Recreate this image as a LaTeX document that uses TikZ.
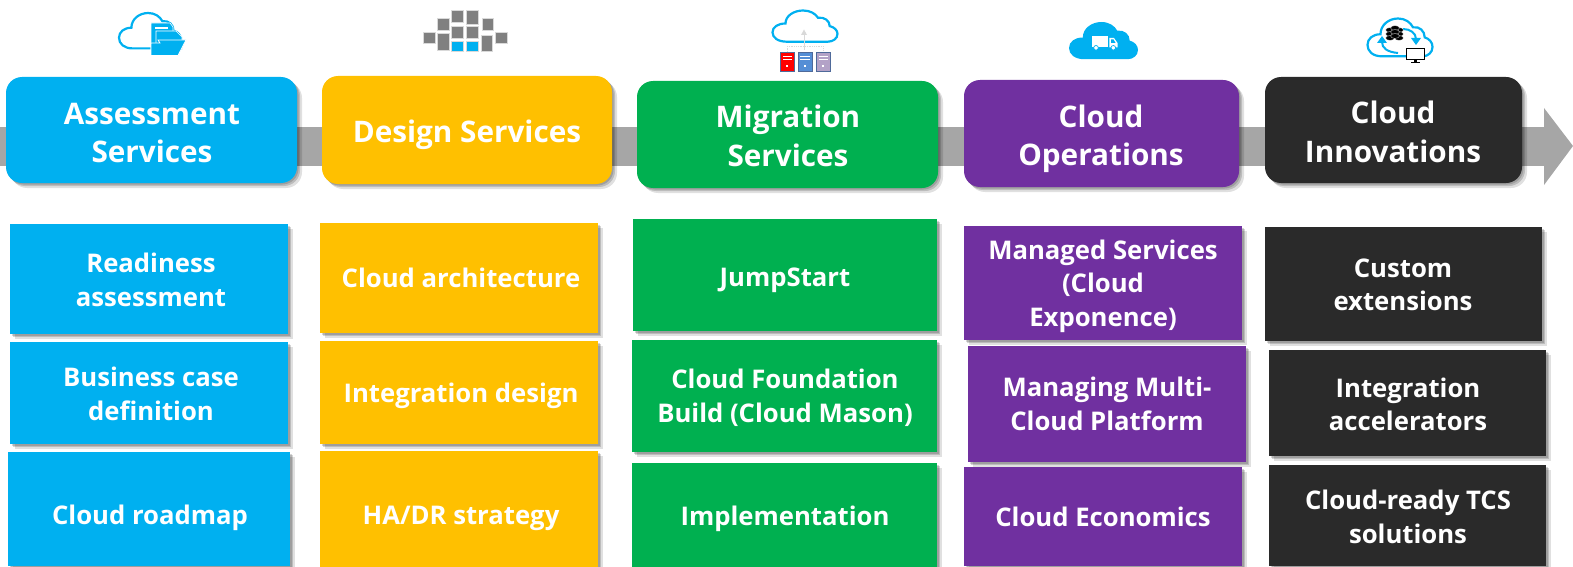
\documentclass[tikz,border=0pt]{standalone}
\usepackage{fontspec}
\setmainfont{Open Sans}
\newfontfamily\bodyf{Open Sans Bold}
\newfontfamily\headf{Open Sans Bold}
\usetikzlibrary{shadows}
\definecolor{cblue}{HTML}{00B0F0}
\definecolor{cgold}{HTML}{FFC000}
\definecolor{cgreen}{HTML}{00B050}
\definecolor{cpurple}{HTML}{7030A0}
\definecolor{cdark}{HTML}{2A2A2A}
\definecolor{cband}{HTML}{A6A6A6}
\definecolor{srvedge}{HTML}{4F6A9A}
\definecolor{srvblue}{HTML}{558ED5}
\definecolor{srvviolet}{HTML}{B3A2C7}
\tikzset{
  softshadow/.style={
    drop shadow={shadow xshift=1.5pt,shadow yshift=-1.5pt,fill=black,opacity=.16},
    drop shadow={shadow xshift=3pt,shadow yshift=-3pt,fill=black,opacity=.16},
    drop shadow={shadow xshift=5pt,shadow yshift=-5pt,fill=black,opacity=.12}},
  headbox/.style={rounded corners=16pt,inner sep=0pt,softshadow},
  bodybox/.style={inner sep=0pt,softshadow},
  headtxt/.style={text=white,align=center,inner sep=0pt,font={\headf\fontsize{29.7}{38.5}\selectfont}},
  bodytxt/.style={text=white,align=center,inner sep=0pt,font={\bodyf\fontsize{25.7}{33.5}\selectfont}},
  iconline/.style={draw=cblue,line width=2.2pt,fill=white},
  gridsq/.style={fill=#1,draw=white!85!black,line width=.5pt},
  server/.style={fill=#1,draw=srvedge,line width=1pt},
  wire/.style={draw=black!15,line width=.8pt}
}
\newcommand{\cloudshape}{(22,60) .. controls (8,60) and (0,52) .. (0,42) .. controls (0,32) and (8,25) .. (20,25) .. controls (20,10) and (33,0) .. (47,0) .. controls (58,0) and (66,6) .. (70,14) .. controls (80,12) and (88,20) .. (88,30) .. controls (95,32) and (100,38) .. (100,45) .. controls (100,54) and (93,60) .. (85,60) -- cycle}
% name, fill, style, x1,y1,x2,y2
\newcommand{\panel}[7]{\node[#3,fill=#2,minimum width={(#6-#4)*1pt},minimum height={(#7-#5)*1pt}] (#1) at ({(#4+#6)/2},{(#5+#7)/2}) {};}
\begin{document}
\begin{tikzpicture}[x=1pt,y=-1pt]
\useasboundingbox (0,0) rectangle (1573,567);
% band and arrow
\fill[cband] (0,127) rectangle (1545,165.5);
\fill[cband] (1544,108) -- (1573,146) -- (1544,185) -- cycle;
% headers
\panel{hA}{cblue}{headbox}{6}{77}{297}{183}
\panel{hB}{cgold}{headbox}{322}{76}{612}{184}
\panel{hC}{cgreen}{headbox}{637}{81}{938}{188}
\panel{hD}{cpurple}{headbox}{964}{80}{1239}{187}
\panel{hE}{cdark}{headbox}{1265}{77}{1522}{183}
\node[headtxt] (tA) at (152,133) {Assessment\\Services};
\node[headtxt] (tB) at (467,135) {Design Services};
\node[headtxt] (tC) at (788,136) {Migration\\Services};
\node[headtxt] (tD) at (1101,139) {Cloud\\Operations};
\node[headtxt] (tE) at (1393,132) {Cloud\\Innovations};
% column 1
\panel{a1}{cblue}{bodybox}{10}{224}{288}{334}
\panel{a2}{cblue}{bodybox}{10}{342}{288}{444}
\panel{a3}{cblue}{bodybox}{8}{452}{290}{566}
\node[bodytxt] (ta1) at (151,280) {Readiness\\assessment};
\node[bodytxt] (ta2) at (151,394) {Business case\\definition};
\node[bodytxt] (ta3) at (150,518) {Cloud roadmap};
% column 2
\panel{b1}{cgold}{bodybox}{320}{223}{598}{333}
\panel{b2}{cgold}{bodybox}{320}{341}{598}{444}
\panel{b3}{cgold}{bodybox}{320}{451}{598}{567}
\node[bodytxt] (tb1) at (461,278) {Cloud architecture};
\node[bodytxt] (tb2) at (461,396) {Integration design};
\node[bodytxt] (tb3) at (461,518) {HA/DR strategy};
% column 3
\panel{c1}{cgreen}{bodybox}{633}{219}{937}{331}
\panel{c2}{cgreen}{bodybox}{632}{340}{937}{452}
\panel{c3}{cgreen}{bodybox}{632}{463}{937}{568}
\node[bodytxt] (tc1) at (785,280) {JumpStart};
\node[bodytxt] (tc2) at (785,398) {Cloud Foundation\\Build (Cloud Mason)};
\node[bodytxt] (tc3) at (785,519) {Implementation};
% column 4
\panel{d1}{cpurple}{bodybox}{964}{226}{1242}{340}
\panel{d2}{cpurple}{bodybox}{968}{346}{1246}{462}
\panel{d3}{cpurple}{bodybox}{964}{467}{1242}{566}
\node[bodytxt] (td1) at (1103,286) {Managed Services\\(Cloud\\Exponence)};
\node[bodytxt] (td2) at (1107,404) {Managing Multi-\\Cloud Platform};
\node[bodytxt] (td3) at (1103,517) {Cloud Economics};
% column 5
\panel{e1}{cdark}{bodybox}{1265}{227}{1542}{341}
\panel{e2}{cdark}{bodybox}{1269}{350}{1546}{456}
\panel{e3}{cdark}{bodybox}{1269}{465}{1546}{566}
\node[bodytxt] (te1) at (1403,285) {Custom\\extensions};
\node[bodytxt] (te2) at (1408,404.5) {Integration\\accelerators};
\node[bodytxt] (te3) at (1408,517) {Cloud-ready TCS\\solutions};
% icon 1: cloud and folder
\begin{scope}[shift={(119,13)},xscale=.62,yscale=.59]
  \draw[iconline] \cloudshape;
\end{scope}
\fill[cblue,draw=white,line width=.6pt] (151,23) -- (170,23) -- (173,27) -- (173,50) -- (151,50) -- cycle;
\fill[white] (155,27) rectangle (168,29.5);
\fill[cblue,draw=white,line width=.6pt] (156,31) -- (176,31) -- (182,37) -- (182,50) -- (156,50) -- cycle;
\fill[cblue,draw=white,line width=.8pt] (151,55.5) -- (151,43) -- (160,43) -- (158,40) -- (186,40) -- (178,55.5) -- cycle;
% icon 2: grid of squares
\foreach \xa/\ya/\xb/\yb in {423.3/32.3/435/43.3,437.3/18.3/449/30,437.3/33.7/449/50.7,451.7/10/463/22,451.7/26.7/463/38,466.7/10/478.3/24,466.7/26.7/478.3/38,481/35/492.7/51.7,482.3/18.3/493.7/30.7,495/32.3/507.3/43.3}
  \path[gridsq=black!50] (\xa,\ya) rectangle (\xb,\yb);
\foreach \xa/\ya/\xb/\yb in {451.7/41/463/51.7,466.7/41/478.3/51.7}
  \path[gridsq=cblue] (\xa,\ya) rectangle (\xb,\yb);
% icon 3: cloud and servers
\begin{scope}[shift={(772.5,10.5)},xscale=.65,yscale=.52]
  \draw[iconline] \cloudshape;
\end{scope}
\draw[wire] (804,50) -- (804,33);
\fill[black!15] (801,35) -- (804,29.5) -- (807,35) -- cycle;
\draw[wire,densely dotted] (787,52) -- (787,46.5) -- (823,46.5) -- (823,52);
\path[server=red] (780.5,52.5) rectangle (794,72);
\path[server=srvblue] (798,52.5) rectangle (812,72);
\path[server=srvviolet] (816.5,52.5) rectangle (830,72);
\foreach \sx in {782.5,800,818.5}{
  \fill[white] (\sx,56) rectangle ++(9.5,.8);
  \fill[white] (\sx,59) rectangle ++(9.5,.8);
  \fill[white] (\sx+3.5,65.5) rectangle ++(2.2,1.8);
}
% icon 4: filled cloud with truck
\begin{scope}[shift={(1069,22)},xscale=.69,yscale=.62]
  \fill[cblue] \cloudshape;
\end{scope}
\fill[white] (1091.7,35.7) rectangle (1108.3,47);
\fill[white] (1109.3,38) -- (1114,38) -- (1117.5,43) -- (1117.5,47.5) -- (1109.3,47.5) -- cycle;
\fill[cblue] (1111,39.5) -- (1113.5,39.5) -- (1115.5,42.8) -- (1111,42.8) -- cycle;
\fill[white,draw=cblue,line width=.7pt] (1096,47.8) circle (2.3);
\fill[white,draw=cblue,line width=.7pt] (1113.3,47.8) circle (2.3);
% icon 5: cloud, cycle arrows, data, monitor
\begin{scope}[shift={(1367.5,18.5)},xscale=.65,yscale=.63]
  \draw[iconline] \cloudshape;
\end{scope}
\draw[cblue,line width=2pt] (1398,53) .. controls (1387,52) and (1382,48) .. (1382,42);
\fill[cblue] (1377,43) -- (1382,36) -- (1387,43) -- cycle;
\draw[cblue,line width=2pt] (1403,29) .. controls (1410,29) and (1416,33) .. (1416,39);
\fill[cblue] (1411,38) -- (1416,45) -- (1421,38) -- cycle;
\foreach \cx/\cy in {1390/30,1390/34,1390/38,1399/30,1399/34,1399/38,1395/28,1395/32,1395/36}
  \fill[black,draw=white,line width=.25pt] (\cx,\cy) ellipse (4.4 and 2.4);
\fill[white,draw=black,line width=1pt] (1406.5,49) rectangle (1424,60);
\fill[black] (1413.5,60) rectangle (1417,62);
\fill[black] (1411,62) rectangle (1419.5,63.2);
\end{tikzpicture}
\end{document}
